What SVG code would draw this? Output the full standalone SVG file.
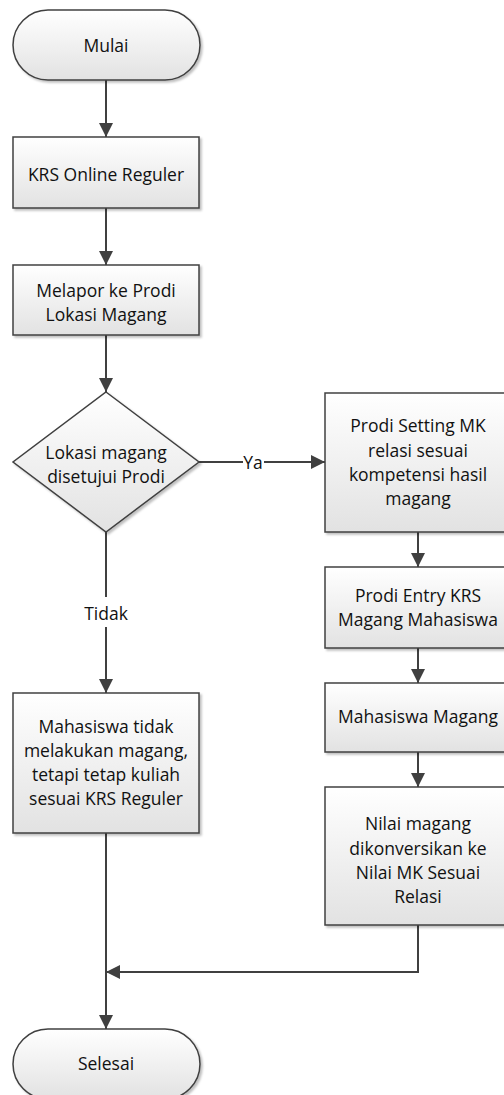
<svg xmlns="http://www.w3.org/2000/svg" width="504" height="1095" viewBox="0 0 504 1095">
<style>
.shape{fill:url(#g);stroke:#404040;stroke-width:1.5;filter:url(#sh)}
.t{font-family:"Open Sans","Liberation Sans",sans-serif;font-size:17.5px;fill:#111111;text-anchor:middle}
.c{fill:none;stroke:#404040;stroke-width:2}
.lbg{fill:#ffffff}
</style>
<defs>
<linearGradient id="g" x1="0" y1="0" x2="0" y2="1">
<stop offset="0" stop-color="#ffffff"/>
<stop offset="1" stop-color="#e2e2e2"/>
</linearGradient>
<filter id="sh" x="-10%" y="-10%" width="130%" height="130%">
<feDropShadow dx="2" dy="2" stdDeviation="1.2" flood-color="#000" flood-opacity="0.25"/>
</filter>
<marker id="ah" markerUnits="userSpaceOnUse" markerWidth="14" markerHeight="14" refX="14" refY="7" orient="auto">
<path d="M0,0 L14,7 L0,14 z" fill="#404040"/>
</marker>
</defs>
<g id="connectors">
<path class="c" d="M106,80 V137" marker-end="url(#ah)"/>
<path class="c" d="M106,208 V265" marker-end="url(#ah)"/>
<path class="c" d="M106,335 V392" marker-end="url(#ah)"/>
<path class="c" d="M199,462 H325" marker-end="url(#ah)"/>
<rect class="lbg" x="243" y="454" width="21" height="18"/>
<text class="t" x="253" y="469">Ya</text>
<path class="c" d="M418,532 V567" marker-end="url(#ah)"/>
<path class="c" d="M418,648 V683" marker-end="url(#ah)"/>
<path class="c" d="M418,752 V787" marker-end="url(#ah)"/>
<path class="c" d="M418,925 V972 H106" marker-end="url(#ah)"/>
<path class="c" d="M106,532 V693" marker-end="url(#ah)"/>
<rect class="lbg" x="80" y="597" width="52" height="30"/>
<text class="t" x="106" y="620">Tidak</text>
<path class="c" d="M106,833 V1029" marker-end="url(#ah)"/>
</g>
<g id="mulai">
<rect class="shape" x="13" y="10" width="187" height="70" rx="35" ry="35"/>
<text class="t" x="106" y="52">Mulai</text>
</g>
<g id="krs-online">
<rect class="shape" x="13" y="137" width="186" height="71"/>
<text class="t" x="106" y="181">KRS Online Reguler</text>
</g>
<g id="melapor">
<rect class="shape" x="13" y="265" width="186" height="70"/>
<text class="t" x="106" y="297">Melapor ke Prodi</text>
<text class="t" x="106" y="321">Lokasi Magang</text>
</g>
<g id="keputusan">
<polygon class="shape" points="106,392 199,462 106,532 13,462"/>
<text class="t" x="106" y="459">Lokasi magang</text>
<text class="t" x="106" y="483">disetujui Prodi</text>
</g>
<g id="setting-mk">
<rect class="shape" x="325" y="393" width="186" height="139"/>
<text class="t" x="418" y="432">Prodi Setting MK</text>
<text class="t" x="418" y="457">relasi sesuai</text>
<text class="t" x="418" y="481">kompetensi hasil</text>
<text class="t" x="418" y="505">magang</text>
</g>
<g id="entry-krs">
<rect class="shape" x="325" y="567" width="186" height="81"/>
<text class="t" x="418" y="602">Prodi Entry KRS</text>
<text class="t" x="418" y="626">Magang Mahasiswa</text>
</g>
<g id="mahasiswa-magang">
<rect class="shape" x="325" y="683" width="186" height="69"/>
<text class="t" x="418" y="723">Mahasiswa Magang</text>
</g>
<g id="nilai">
<rect class="shape" x="325" y="787" width="186" height="138"/>
<text class="t" x="418" y="830">Nilai magang</text>
<text class="t" x="418" y="855">dikonversikan ke</text>
<text class="t" x="418" y="879">Nilai MK Sesuai</text>
<text class="t" x="418" y="903">Relasi</text>
</g>
<g id="tidak-magang">
<rect class="shape" x="13" y="693" width="186" height="140"/>
<text class="t" x="106" y="733">Mahasiswa tidak</text>
<text class="t" x="106" y="757">melakukan magang,</text>
<text class="t" x="106" y="781">tetapi tetap kuliah</text>
<text class="t" x="106" y="805">sesuai KRS Reguler</text>
</g>
<g id="selesai">
<rect class="shape" x="13" y="1029" width="187" height="70" rx="35" ry="35"/>
<text class="t" x="106" y="1070">Selesai</text>
</g>
</svg>
